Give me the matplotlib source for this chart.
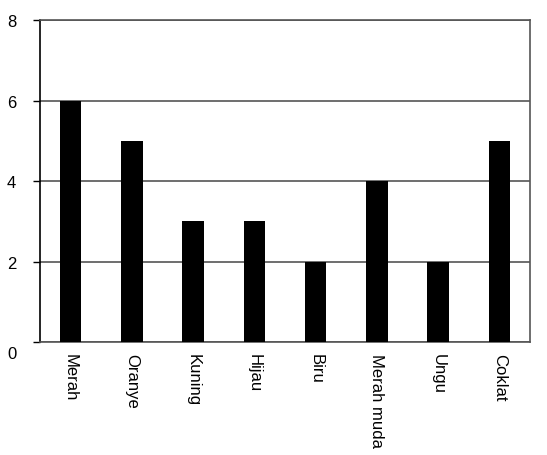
import matplotlib
matplotlib.use("Agg")
import matplotlib.pyplot as plt
from matplotlib.transforms import ScaledTranslation

warna = ["Merah", "Oranye", "Kuning", "Hijau", "Biru", "Merah muda", "Ungu", "Coklat"]
jumlah = [6, 5, 3, 3, 2, 4, 2, 5]

plt.rcParams['font.family'] = ['Liberation Sans', 'DejaVu Sans']

fig = plt.figure(figsize=(5.47, 4.56), dpi=100)
ax = fig.add_axes([0.0731, 0.2478, 0.896, 0.706])

ax.bar(range(len(warna)), jumlah, width=0.35, color='black', zorder=3)
ax.set_xlim(-0.5, len(warna) - 0.5)
ax.set_ylim(0, 8)
ax.set_yticks([0, 2, 4, 6, 8])
ax.yaxis.grid(True, color='#555555', linewidth=1.2, zorder=0)

ax.set_xticks(range(len(warna)))
ax.set_xticklabels(warna, rotation=270, fontsize=12)
ax.tick_params(axis='x', length=0, pad=8)
ax.tick_params(axis='y', length=5, width=1, labelsize=12, pad=12)

# the 0 label sits a little below the axis line in the original
lbl0 = ax.get_yticklabels()[0]
lbl0.set_transform(lbl0.get_transform() + ScaledTranslation(0, -7 / 72, fig.dpi_scale_trans))

ax.spines['left'].set_color('black')
ax.spines['left'].set_linewidth(1.2)
for s in ['right', 'bottom', 'top']:
    ax.spines[s].set_color('#555555')
    ax.spines[s].set_linewidth(1.2)

fig.savefig("out.png", dpi=100)
